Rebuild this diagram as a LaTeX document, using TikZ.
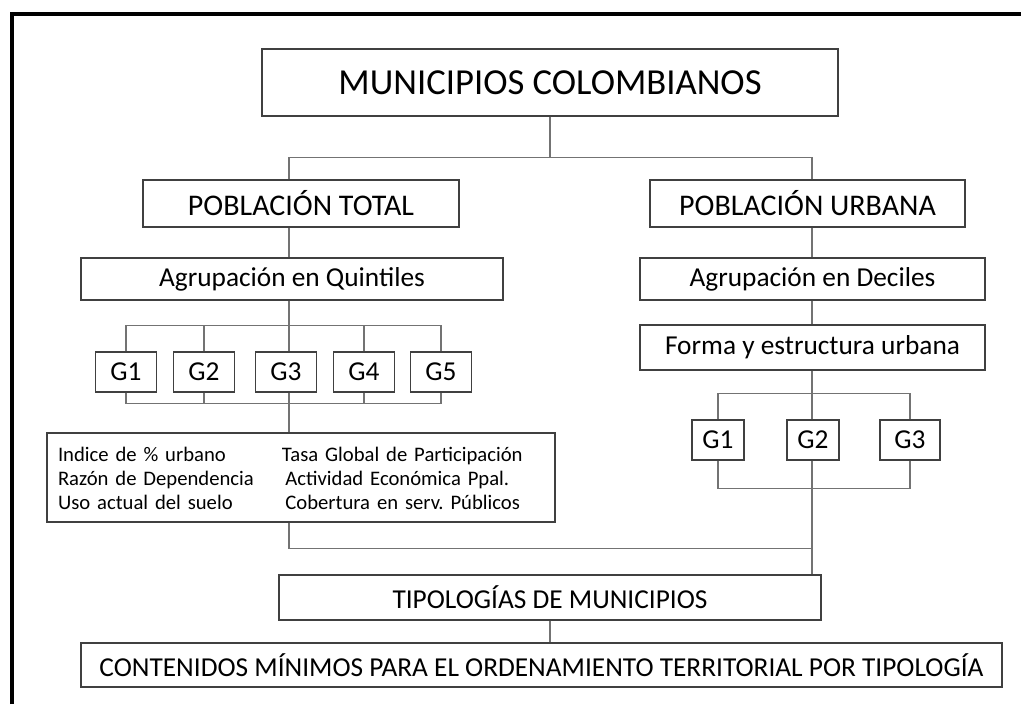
\documentclass[tikz,border=0pt]{standalone}
\usepackage{fontspec}
\usepackage{array}
\setmainfont{Carlito}
\frenchspacing
\begin{document}
\begin{tikzpicture}[x=0.75pt,y=-0.75pt,
  caja/.style={draw=black!75,line width=0.8pt,fill=white,inner sep=0pt},
  linea/.style={draw=black!55,line width=0.8pt},
  letraT/.style={font=\fontsize{27.5}{30}\selectfont},
  letraP/.style={font=\fontsize{22.5}{26}\selectfont},
  letraA/.style={font=\fontsize{20.5}{24}\selectfont},
  letraI/.style={font=\fontsize{15.5}{18}\selectfont}]
\useasboundingbox (0,0) rectangle (1021,704);
% marco
\draw[line width=3pt] (11.5,704) -- (11.5,13.5) -- (1021,13.5);
% cajas principales
\node[caja,letraT,minimum width=432pt,minimum height=50.25pt] (muni) at (550,82.5) {MUNICIPIOS COLOMBIANOS};
\node[caja,letraP,minimum width=237pt,minimum height=35.25pt] (ptotal) at (301,203.5) {POBLACIÓN TOTAL};
\node[caja,letraP,minimum width=236.25pt,minimum height=35.25pt] (purb) at (807.5,203.5) {POBLACIÓN URBANA};
\node[caja,letraA,minimum width=316.5pt,minimum height=31.5pt] (quint) at (292,279) {Agrupación en Quintiles};
\node[caja,letraA,minimum width=258.75pt,minimum height=31.5pt] (decil) at (812.5,279) {Agrupación en Deciles};
\node[caja,letraA,minimum width=258.75pt,minimum height=33.75pt] (forma) at (812.5,347.5) {Forma y estructura urbana};
% grupos
\foreach \i/\x in {1/126,2/204,3/286,4/364,5/441}
  \node[caja,letraA,minimum width=45.75pt,minimum height=30pt] (q\i) at (\x,372) {G\i};
\foreach \i/\x/\w in {1/718/39,2/813/39,3/910/45}
  \node[caja,letraA,minimum width=\w pt,minimum height=30pt] (d\i) at (\x,440) {G\i};
% indicadores
\node[caja,letraI,minimum width=381pt,minimum height=66.75pt,text width=364.5pt,align=left] (indic) at (301,477.5) {%
  \raisebox{-2.5pt}[\height][\depth]{\begin{tabular}{@{}>{\raggedright\arraybackslash}p{168pt}@{}l@{}}
  Indice de \% urbano & Tasa Global de Participación\\
  Razón de Dependencia & \,Actividad Económica Ppal.\\
  Uso actual del suelo & \,Cobertura en serv. Públicos
  \end{tabular}}};
\node[caja,letraA,minimum width=406.5pt,minimum height=33.75pt] (tipo) at (550,597.5) {TIPOLOGÍAS DE MUNICIPIOS};
\node[caja,letraA,minimum width=690.75pt,minimum height=33pt] (cont) at (541.5,665) {CONTENIDOS MÍNIMOS PARA EL ORDENAMIENTO TERRITORIAL POR TIPOLOGÍA};
% ejes
\coordinate (ejeT) at (289,0);
\coordinate (ejeU) at (812,0);
% conectores
\draw[linea] (muni.south) -- (muni.south |- 0,158);
\draw[linea] (ejeT |- ptotal.north) -- ++(0,-22) -| (ejeU |- purb.north);
\draw[linea] (ejeT |- ptotal.south) -- (ejeT |- quint.north);
\draw[linea] (ejeU |- purb.south) -- (ejeU |- decil.north);
\draw[linea] (ejeU |- decil.south) -- (ejeU |- forma.north);
% quintiles
\draw[linea] (ejeT |- quint.south) -- (ejeT |- q3.north);
\draw[linea] (q1.north) -- ++(0,-26) -| (q5.north);
\foreach \i in {2,4} \draw[linea] (q\i.north) -- ++(0,-26);
\draw[linea] (q1.south) -- ++(0,11) -| (q5.south);
\foreach \i in {2,4} \draw[linea] (q\i.south) -- ++(0,11);
\draw[linea] (ejeT |- q3.south) -- (ejeT |- indic.north);
% deciles
\draw[linea] (ejeU |- forma.south) -- (ejeU |- d2.north);
\draw[linea] (d1.north) -- ++(0,-26) -| (d3.north);
\draw[linea] (d1.south) -- ++(0,28) -| (d3.south);
\draw[linea] (ejeU |- d2.south) -- (ejeU |- tipo.north);
% union
\draw[linea] (ejeT |- indic.south) -- ++(0,26) -| (ejeU |- tipo.north);
\draw[linea] (tipo.south) -- (tipo.south |- cont.north);
\end{tikzpicture}
\end{document}
